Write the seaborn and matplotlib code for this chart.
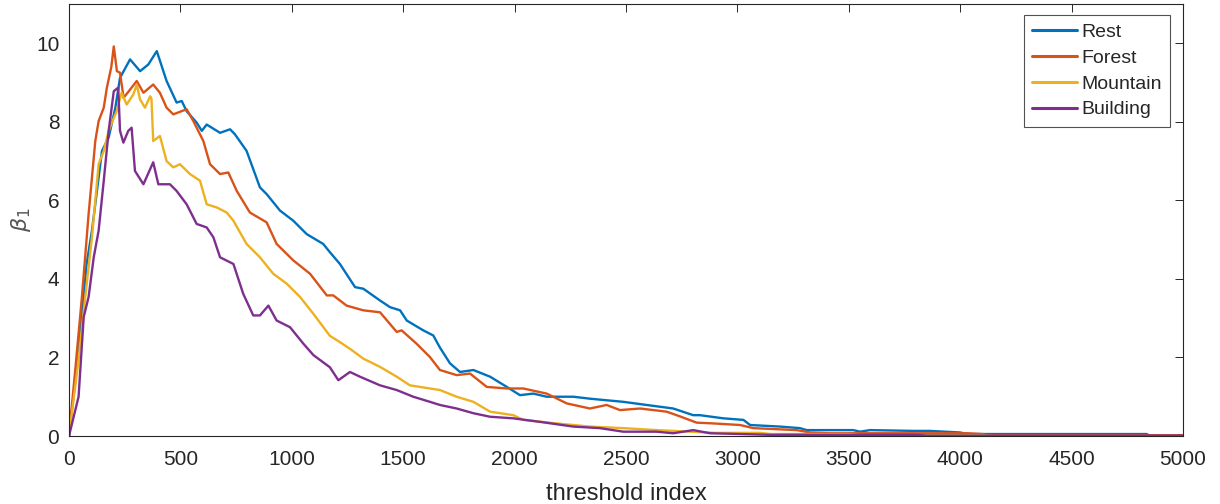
import numpy as np
import pandas as pd
import matplotlib
matplotlib.use("Agg")
import matplotlib.pyplot as plt
import seaborn as sns

# ---------------- data ----------------
series_names = ["Rest", "Forest", "Mountain", "Building"]
series_colors = ["#0072BD", "#D95319", "#EDB120", "#7E2F8E"]

rest_x = [0, 40, 79, 103, 148, 178, 208, 229, 274, 319, 356, 394, 438, 483, 506, 528, 573, 596,
          618, 678, 723, 745, 797, 857, 887, 947, 1007, 1067, 1141, 1171, 1216, 1284, 1321, 1396,
          1441, 1486, 1516, 1590, 1635, 1665, 1710, 1755, 1815, 1890, 1965, 2024, 2084, 2144,
          2263, 2338, 2488, 2593, 2712, 2802, 2832, 2937, 3027, 3057, 3191, 3281, 3311, 3520,
          3550, 3595, 3790, 3864, 3999, 4033, 4400, 4837, 4850, 5000]
rest_y = [0, 2.0, 4.38, 5.23, 7.26, 7.6, 8.36, 9.12, 9.59, 9.29, 9.46, 9.8, 9.04, 8.49, 8.53, 8.27,
          7.98, 7.77, 7.93, 7.72, 7.81, 7.68, 7.26, 6.33, 6.16, 5.74, 5.48, 5.14, 4.89, 4.68, 4.38,
          3.79, 3.75, 3.45, 3.28, 3.2, 2.94, 2.69, 2.56, 2.25, 1.85, 1.63, 1.68, 1.51, 1.25, 1.04,
          1.08, 1.0, 1.0, 0.95, 0.87, 0.79, 0.7, 0.53, 0.53, 0.45, 0.41, 0.28, 0.24, 0.2, 0.15,
          0.15, 0.11, 0.15, 0.13, 0.13, 0.09, 0.05, 0.05, 0.05, 0.01, 0.01]

forest_x = [0, 30, 58, 88, 118, 133, 156, 170, 190, 201, 215, 229, 245, 274, 304, 334, 378, 408,
            438, 468, 528, 558, 588, 603, 633, 678, 715, 753, 812, 887, 932, 1007, 1082, 1157,
            1186, 1246, 1321, 1396, 1471, 1493, 1560, 1620, 1665, 1740, 1800, 1875, 1965, 2039,
            2144, 2234, 2338, 2413, 2473, 2563, 2682, 2742, 2817, 2892, 3012, 3072, 3266, 3326,
            3415, 3908, 4033, 4100, 4120, 5000]
forest_y = [0, 1.8, 3.54, 5.65, 7.51, 8.02, 8.36, 8.87, 9.4, 9.92, 9.29, 9.25, 8.61, 8.82, 9.04,
            8.74, 8.95, 8.74, 8.36, 8.19, 8.32, 8.02, 7.68, 7.51, 6.92, 6.67, 6.71, 6.24, 5.69,
            5.44, 4.89, 4.47, 4.13, 3.58, 3.58, 3.32, 3.2, 3.15, 2.65, 2.69, 2.35, 2.01, 1.68,
            1.55, 1.59, 1.25, 1.21, 1.21, 1.08, 0.83, 0.7, 0.79, 0.66, 0.7, 0.62, 0.5, 0.34, 0.32,
            0.28, 0.2, 0.15, 0.09, 0.07, 0.07, 0.07, 0.05, 0.02, 0.02]

mountain_x = [0, 40, 73, 103, 133, 156, 178, 201, 214, 236, 259, 289, 304, 319, 341, 364, 370,
              378, 408, 438, 468, 498, 543, 588, 618, 663, 708, 738, 797, 857, 917, 977, 1037,
              1097, 1171, 1216, 1261, 1321, 1396, 1471, 1530, 1620, 1665, 1740, 1815, 1890, 1994,
              2039, 2189, 2338, 2488, 2637, 2787, 2900, 3100, 3150, 3500, 3550, 4100, 4150, 5000]
mountain_y = [0, 1.8, 3.54, 5.06, 6.92, 7.26, 7.77, 8.1, 8.27, 8.74, 8.44, 8.7, 8.95, 8.57, 8.36,
              8.65, 8.6, 7.51, 7.64, 7.0, 6.84, 6.92, 6.67, 6.5, 5.9, 5.82, 5.69, 5.48, 4.89, 4.55,
              4.13, 3.88, 3.54, 3.11, 2.55, 2.39, 2.22, 1.97, 1.76, 1.51, 1.29, 1.21, 1.17, 1.0,
              0.87, 0.62, 0.53, 0.41, 0.32, 0.24, 0.2, 0.15, 0.11, 0.08, 0.08, 0.05, 0.05, 0.02,
              0.02, 0.0, 0.0]

building_x = [0, 43, 66, 88, 111, 133, 156, 178, 201, 221, 229, 244, 266, 281, 296, 334, 378,
              401, 453, 483, 528, 573, 618, 648, 678, 738, 782, 827, 857, 895, 932, 992, 1052,
              1097, 1171, 1209, 1261, 1306, 1396, 1471, 1545, 1620, 1665, 1740, 1815, 1890, 1994,
              2114, 2263, 2383, 2488, 2637, 2712, 2802, 2877, 3146, 3800, 3850, 5000]
building_y = [0, 1.0, 3.03, 3.54, 4.55, 5.23, 6.5, 7.77, 8.78, 8.87, 7.77, 7.47, 7.77, 7.85, 6.75,
              6.41, 6.97, 6.41, 6.41, 6.24, 5.9, 5.4, 5.31, 5.06, 4.55, 4.38, 3.62, 3.07, 3.07,
              3.32, 2.94, 2.77, 2.35, 2.06, 1.75, 1.42, 1.63, 1.51, 1.29, 1.17, 1.0, 0.87, 0.79,
              0.7, 0.58, 0.49, 0.45, 0.36, 0.24, 0.2, 0.11, 0.11, 0.07, 0.15, 0.07, 0.03, 0.03,
              0.01, 0.01]

x_ticks = [0, 500, 1000, 1500, 2000, 2500, 3000, 3500, 4000, 4500, 5000]
y_ticks = [0, 2, 4, 6, 8, 10]
x_label = "threshold index"
y_label = r"$\beta_1$"

# ---------------- build long-form table ----------------
frames = []
for name, xs, ys in zip(series_names,
                        [rest_x, forest_x, mountain_x, building_x],
                        [rest_y, forest_y, mountain_y, building_y]):
    frames.append(pd.DataFrame({"x": xs, "y": ys, "series": name}))
df = pd.concat(frames, ignore_index=True)

# ---------------- style ----------------
sns.set_theme(style="white")
plt.rcParams["font.family"] = ["Liberation Sans", "DejaVu Sans"]
plt.rcParams["mathtext.fontset"] = "dejavusans"
ink = "#262626"

fig = plt.figure(figsize=(12.2, 5.04), dpi=100)
ax = fig.add_axes([69 / 1220, 1 - 436 / 504, (1183 - 69) / 1220, (436 - 4) / 504])

sns.lineplot(data=df, x="x", y="y", hue="series", hue_order=series_names,
             palette=series_colors, sort=False, estimator=None, linewidth=1.7, ax=ax)

ax.set_xlim(0, 5000)
ax.set_ylim(0, 11)
ax.set_xticks(x_ticks)
ax.set_yticks(y_ticks)
ax.tick_params(direction="in", top=True, right=True, length=5.5, width=0.7,
               colors=ink, labelsize=15, pad=7)
ax.tick_params(axis="x", pad=10)
for s in ax.spines.values():
    s.set_color(ink)
    s.set_linewidth(0.8)

ax.set_xlabel(x_label, fontsize=17, color=ink, labelpad=10)
ax.set_ylabel(y_label, fontsize=16, color="#555555", labelpad=2)

leg = ax.legend(loc="upper right", bbox_to_anchor=(0.9885, 0.975), fontsize=14,
                frameon=True, fancybox=False, handlelength=2.3, handletextpad=0.2,
                borderpad=0.45, labelspacing=0.42, borderaxespad=0)
leg.get_frame().set_edgecolor(ink)
leg.get_frame().set_linewidth(0.8)
for line in leg.get_lines():
    line.set_linewidth(2.2)
for t in leg.get_texts():
    t.set_color(ink)

fig.savefig("out.png", dpi=100)
